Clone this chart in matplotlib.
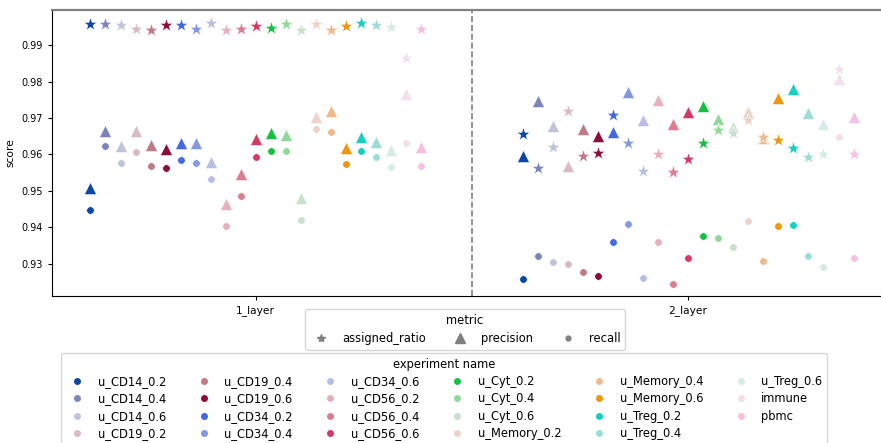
import numpy as np
import matplotlib
matplotlib.use("Agg")
from matplotlib import pyplot as plt
from matplotlib.lines import Line2D

layers = ['1_layer', '2_layer']
experiments = ['u_CD14_0.2', 'u_CD14_0.4', 'u_CD14_0.6',
               'u_CD19_0.2', 'u_CD19_0.4', 'u_CD19_0.6',
               'u_CD34_0.2', 'u_CD34_0.4', 'u_CD34_0.6',
               'u_CD56_0.2', 'u_CD56_0.4', 'u_CD56_0.6',
               'u_Cyt_0.2', 'u_Cyt_0.4', 'u_Cyt_0.6',
               'u_Memory_0.2', 'u_Memory_0.4', 'u_Memory_0.6',
               'u_Treg_0.2', 'u_Treg_0.4', 'u_Treg_0.6',
               'immune', 'pbmc']
colors = ['#0a47a9', '#7a86bb', '#bfc3da',
          '#d9bcc3', '#bf7a86', '#8c0c3c',
          '#4469e0', '#8497e0', '#b7bfe7',
          '#e8b0bc', '#e07b8f', '#d53a65',
          '#14c241', '#8fd899', '#c7e1cb',
          '#ebd4c7', '#f0b98b', '#f0960c',
          '#12d1c1', '#9bddd5', '#d6ebe7',
          '#f2e0ec', '#f5c1e1']

# values per experiment, one list for each layer
assigned_1 = [0.99567, 0.99576, 0.99549, 0.99430, 0.99412, 0.99549, 0.99540, 0.99448,
              0.99595, 0.99402, 0.99430, 0.99512, 0.99457, 0.99585, 0.99402, 0.99576,
              0.99421, 0.99521, 0.99604, 0.99540, 0.99503, 0.98643, 0.99448]
assigned_2 = [0.96549, 0.95634, 0.96210, 0.97189, 0.95954, 0.96046, 0.97085, 0.96302,
              0.95533, 0.96018, 0.95506, 0.95881, 0.96320, 0.96658, 0.96594, 0.96933,
              0.96476, 0.96393, 0.96183, 0.95936, 0.96018, 0.98332, 0.96009]
precision_1 = [0.95076, 0.96649, 0.96220, 0.96631, 0.96256, 0.96137, 0.96320, 0.96311,
               0.95799, 0.94646, 0.95451, 0.96412, 0.96585, 0.96530, 0.94793, 0.97033,
               0.97180, 0.96183, 0.96476, 0.96347, 0.96119, 0.97646, 0.96192]
precision_2 = [0.95954, 0.97463, 0.96787, 0.95689, 0.96704, 0.96494, 0.96622, 0.97701,
               0.96933, 0.97500, 0.96841, 0.97171, 0.97326, 0.96969, 0.96750, 0.97152,
               0.96439, 0.97537, 0.97784, 0.97134, 0.96841, 0.98067, 0.97024]
recall_1 = [0.94482, 0.96229, 0.95771, 0.96064, 0.95680, 0.95616, 0.95844, 0.95771,
            0.95323, 0.94033, 0.94857, 0.95936, 0.96091, 0.96100, 0.94198, 0.96704,
            0.96613, 0.95726, 0.96082, 0.95918, 0.95662, 0.96311, 0.95680]
recall_2 = [0.92588, 0.93229, 0.93064, 0.93000, 0.92790, 0.92680, 0.93613, 0.94097,
            0.92625, 0.93613, 0.92460, 0.93155, 0.93759, 0.93722, 0.93475, 0.94170,
            0.93091, 0.94042, 0.94060, 0.93210, 0.92918, 0.96466, 0.93155]

metrics = {
    'assigned_ratio': (assigned_1, assigned_2, '*', 110),
    'precision': (precision_1, precision_2, '^', 80),
    'recall': (recall_1, recall_2, 'o', 30),
}

fig = plt.figure(figsize=(8.81, 4.43), dpi=100)
ax = fig.add_axes([52 / 881, 147 / 443, 840 / 881, 286 / 443])

n = len(experiments)
step = 0.8 / n
offsets = -0.4 + step / 2 + step * np.arange(n)
x_pos = np.arange(len(layers))

# recall first, stars on top
for name in ['recall', 'precision', 'assigned_ratio']:
    v1, v2, marker, size = metrics[name]
    for i in range(n):
        ax.scatter(x_pos + offsets[i], [v1[i], v2[i]], marker=marker, s=size,
                   color=colors[i], edgecolors='white', linewidths=0.5, zorder=3)

ax.axvline(0.5, color='gray', linestyle='--', linewidth=1.2)
ax.set_xticks(x_pos)
ax.set_xticklabels(layers, fontsize=7.7)
ax.set_yticks([0.93, 0.94, 0.95, 0.96, 0.97, 0.98, 0.99])
ax.tick_params(axis='y', labelsize=7)
ax.tick_params(length=3)
ax.set_ylabel('score', fontsize=7.7)
ax.set_xlim(-0.4715, 1.4715)
ax.set_ylim(0.9212, 0.9996)
ax.spines['top'].set_color('gray')
ax.spines['top'].set_linewidth(1.6)

metric_handles = [Line2D([], [], linestyle='', marker=m, color='gray', markersize=ms)
                  for m, ms in [('*', 6), ('^', 6.5), ('o', 3.5)]]
fig.legend(metric_handles, list(metrics.keys()), title='metric', ncol=3,
           loc='upper center', bbox_to_anchor=(465 / 881, 1 - 309 / 443),
           borderaxespad=0, fontsize=8.3, title_fontsize=8.3)

exp_handles = [Line2D([], [], linestyle='', marker='o', color=c, markersize=4)
               for c in colors]
fig.legend(exp_handles, experiments, title='experiment name', ncol=6,
           loc='upper center', bbox_to_anchor=(444 / 881, 1 - 353 / 443),
           borderaxespad=0, fontsize=8.3, title_fontsize=8.3,
           labelspacing=0.38, columnspacing=2.25)

fig.savefig('out.png', dpi=100)
